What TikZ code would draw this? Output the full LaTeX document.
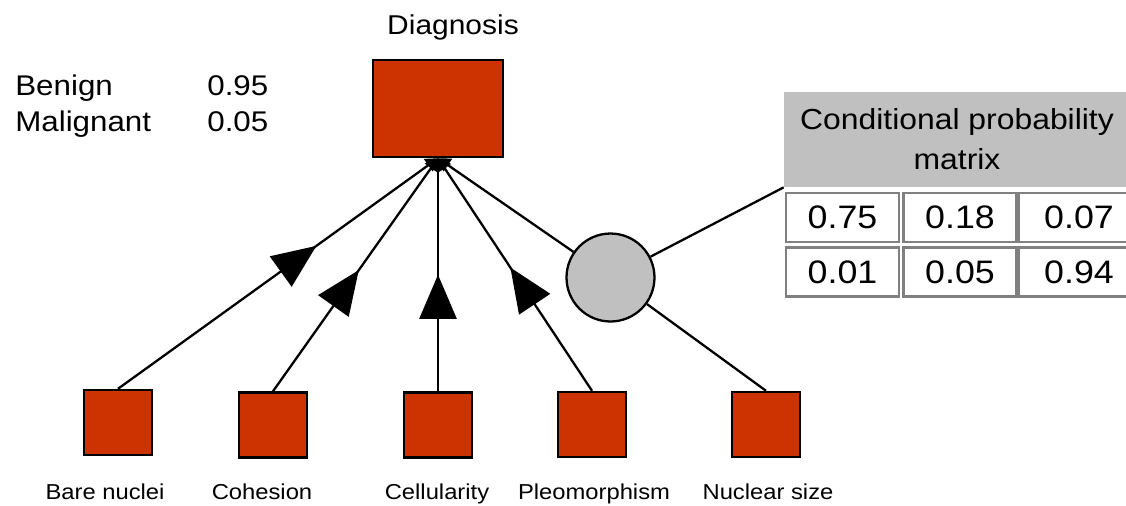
\documentclass[tikz,border=0pt]{standalone}
\usepackage{fontspec}
\setmainfont{Liberation Sans}[FakeStretch=1.1]
\usepackage{tikz}
\usetikzlibrary{arrows.meta,decorations.markings}
\definecolor{RojoNodo}{RGB}{204,51,0}
\definecolor{GrisCPT}{RGB}{192,192,192}
\definecolor{GrisBorde}{RGB}{128,128,128}

\begin{document}
\begin{tikzpicture}[x=0.02cm,y=-0.02cm,>={Triangle[length=0.24cm,width=0.3cm]},
  nodo/.style={draw,line width=1.4pt,fill=RojoNodo,minimum width=1.36cm,minimum height=1.3cm,inner sep=0pt},
  arista/.style={line width=1.3pt},
  flecha/.style={arista,->,postaction={decorate},
    decoration={markings,mark=at position #1 with {\arrow{Triangle[length=0.88cm,width=0.74cm]}}}},
  celda/.style={draw=GrisBorde,line width=1.2pt,fill=white,minimum width=2.26cm,minimum height=0.98cm,
    inner sep=0pt,font=\fontsize{18.5}{22}\selectfont},
  etiqueta/.style={anchor=base,font=\fontsize{12.3}{15}\selectfont},
  texto/.style={anchor=base west,inner sep=0pt,font=\fontsize{16.2}{19}\selectfont}]
  \useasboundingbox (0,0) rectangle (1126,505);
  \clip (0,0) rectangle (1126,505);
  % nodo principal
  \node[nodo,minimum width=2.6cm,minimum height=1.94cm] (diag) at (438,108.5) {};
  \node[anchor=base,font=\fontsize{15.5}{19}\selectfont] (tdiag) at (453,34) {Diagnosis};
  \node[texto] (tben) at (15,95) {Benign};
  \node[texto] (tmal) at (15,131) {Malignant};
  \node[texto] (pben) at (207,95) {0.95};
  \node[texto] (pmal) at (207,131) {0.05};
  % nodos de entrada
  \node[nodo] (bare) at (118,422.5) {};
  \node[nodo] (cohes) at (273,425) {};
  \node[nodo] (celul) at (438,425) {};
  \node[nodo] (pleo) at (592,424.5) {};
  \node[nodo] (nsize) at (766,424.5) {};
  \node[etiqueta] (lbare) at (105,499) {Bare nuclei};
  \node[etiqueta] (lcohes) at (262,499) {Cohesion};
  \node[etiqueta] (lcelul) at (437,499) {Cellularity};
  \node[etiqueta] (lpleo) at (594,499) {Pleomorphism};
  \node[etiqueta] (lnsize) at (768,499) {Nuclear size};
  % matriz
  \node[circle,draw,line width=1.3pt,fill=GrisCPT,minimum size=1.76cm,inner sep=0pt] (cpt) at (610.5,277.5) {};
  \node[fill=GrisCPT,minimum width=6.92cm,minimum height=1.9cm,align=center,inner sep=0pt,
    font=\fontsize{16.5}{22.7}\selectfont] (cab) at (957,139.5) {Conditional probability\\matrix};
  \node[celda] (c11) at (842.5,217.5) {0.75};
  \node[celda] (c12) at (960,217.5) {0.18};
  \node[celda,minimum width=2.4cm] (c13) at (1079,217.5) {0.07};
  \node[celda] (c21) at (842.5,272) {0.01};
  \node[celda] (c22) at (960,272) {0.05};
  \node[celda,minimum width=2.4cm] (c23) at (1079,272) {0.94};
  % aristas
  \draw[flecha=0.62] (bare.north) -- (diag.south);
  \draw[flecha=0.52] (cohes.north) -- (diag.south);
  \draw[flecha=0.50] (celul.north) -- (diag.south);
  \draw[flecha=0.53] (pleo.north) -- (diag.south);
  \draw[arista] (nsize.north) -- (cpt);
  \draw[arista,->] (cpt) -- (diag.south);
  \draw[arista] (cpt) -- (cab.south west);
\end{tikzpicture}
\end{document}
